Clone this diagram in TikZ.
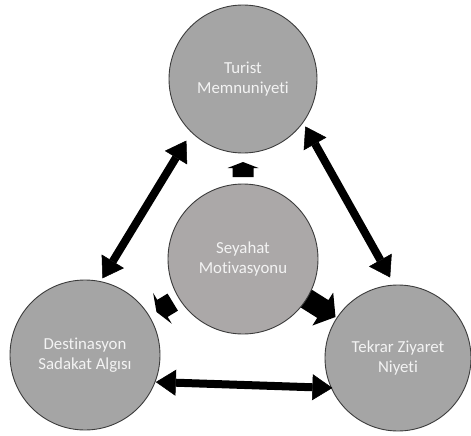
\documentclass[tikz,border=0pt]{standalone}
\usepackage{fontspec}
\setmainfont[Ligatures=NoCommon]{Carlito}
\usetikzlibrary{arrows.meta}
\definecolor{circfill}{RGB}{165,165,165}
\definecolor{midfill}{RGB}{171,168,168}
\definecolor{circline}{RGB}{60,60,60}
\definecolor{txtcol}{RGB}{243,243,243}
% tip x, tip y, angle, head length, head half width, shaft half width, shaft length
\newcommand\mkblockarrow[7]{%
  \fill[black, shift={(#1,#2)}, rotate=#3] (0,0) -- (-#4,#5) -- (-#4,#6) -- ({-#4-#7},#6) -- ({-#4-#7},-#6) -- (-#4,-#6) -- (-#4,-#5) -- cycle;}
\begin{document}
\begin{tikzpicture}[x=1pt,y=-1pt,
  bubble/.style={circle, draw=circline, line width=0.9pt, fill=circfill, inner sep=0pt,
    text=txtcol, align=center, font=\fontsize{16.8}{19.5}\selectfont},
  dbl/.style={line width=8pt, black,
    {Triangle[length=20pt,width=26pt,line width=0.5pt]}-{Triangle[length=20pt,width=26pt,line width=0.5pt]}}]
\useasboundingbox (0,0) rectangle (471,436);
% block arrows from the centre circle (drawn beneath the circles)
\mkblockarrow{243}{162}{90}{6}{15.5}{10.5}{9}
\mkblockarrow{156.5}{312}{211.3}{7}{18}{10}{12}
\mkblockarrow{335.5}{317}{-32.2}{15}{19.5}{10.5}{20}
% circles
\node[bubble, minimum size=148pt] (T) at (243,79) {Turist\\Memnuniyeti};
\node[bubble, fill=midfill, minimum size=150pt] (C) at (243,259) {Seyahat\\Motivasyonu};
\node[bubble, minimum size=150pt] (L) at (85,355) {Destinasyon\\Sadakat Algısı};
\node[bubble, minimum size=146pt] (R) at (398,358) {Tekrar Ziyaret\\Niyeti};
% double arrows
\draw[dbl, shorten <=3.3pt, shorten >=9.4pt] (L.78.4) -- (T.226);
\draw[dbl, shorten <=4.2pt, shorten >=8.2pt] (T.324.9) -- (R.93.5);
\draw[dbl, shorten <=0.4pt, shorten >=-1.5pt] (L.-21.8) -- (R.204);
\end{tikzpicture}
\end{document}
